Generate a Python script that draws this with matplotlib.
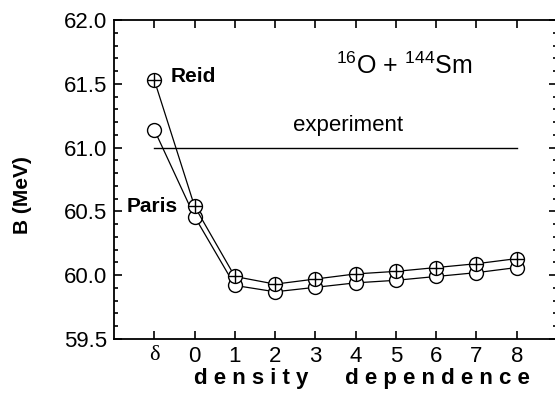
import matplotlib.pyplot as plt
import numpy as np

plt.rcParams['font.family'] = ['Liberation Sans', 'DejaVu Sans']
plt.rcParams['mathtext.fontset'] = 'custom'
plt.rcParams['mathtext.rm'] = 'Liberation Sans'
plt.rcParams['mathtext.it'] = 'Liberation Sans:italic'

# density dependence cases: delta-force, then 0..8
labels = ['δ', '0', '1', '2', '3', '4', '5', '6', '7', '8']
xpos = np.arange(-1, 9)
reid = [61.53, 60.54, 59.99, 59.93, 59.97, 60.01, 60.03, 60.06, 60.09, 60.13]
paris = [61.14, 60.46, 59.92, 59.87, 59.905, 59.94, 59.96, 59.99, 60.02, 60.06]
experiment = 61.0

fig = plt.figure(figsize=(5.55, 3.95), dpi=100)
ax = fig.add_axes([114/555, 56/395, 443/555, 319/395])

ax.plot([xpos[0], xpos[-1]], [experiment, experiment], color='black', lw=1)

ax.plot(xpos, paris, color='black', lw=0.9, marker='o', ms=10,
        mfc='white', mec='black', mew=1.0, zorder=3)
ax.plot(xpos, reid, color='black', lw=0.9, marker='o', ms=10,
        mfc='white', mec='black', mew=1.0, zorder=4)
ax.plot(xpos, reid, ls='none', marker='+', ms=10, mec='black',
        mew=1.0, zorder=5)

ax.text(-0.6, 61.56, 'Reid', fontsize=15, fontweight='bold', va='center')
ax.text(-1.68, 60.54, 'Paris', fontsize=15, fontweight='bold', va='center')
ax.text(3.8, 61.17, 'experiment', fontsize=16, ha='center', va='center')
ax.text(5.2, 61.64, r'$^{16}$O + $^{144}$Sm', fontsize=18, ha='center',
        va='center')

ax.set_xlim(-2, 9)
ax.set_ylim(59.5, 62.0)
ax.set_xticks(xpos)
ax.set_xticklabels(labels)
ax.get_xticklabels()[0].set_family(['Liberation Serif'])
ax.set_yticks(np.arange(59.5, 62.01, 0.5))
ax.set_yticks(np.arange(59.5, 62.01, 0.1), minor=True)
ax.yaxis.set_major_formatter(plt.FormatStrFormatter('%.1f'))

ax.tick_params(which='both', direction='in', right=True, top=True,
               labelsize=16, width=1.2)
ax.tick_params(which='major', length=6, pad=5)
ax.tick_params(which='minor', length=3)
for s in ax.spines.values():
    s.set_linewidth(1.3)

ax.set_ylabel('B (MeV)', fontsize=15, fontweight='bold')
ax.yaxis.set_label_coords(-0.185, 0.45)
ax.set_xlabel('d e n s i t y      d e p e n d e n c e', fontsize=16,
              fontweight='bold')
ax.xaxis.set_label_coords(0.56, -0.09)

fig.savefig('out.png', dpi=100)
